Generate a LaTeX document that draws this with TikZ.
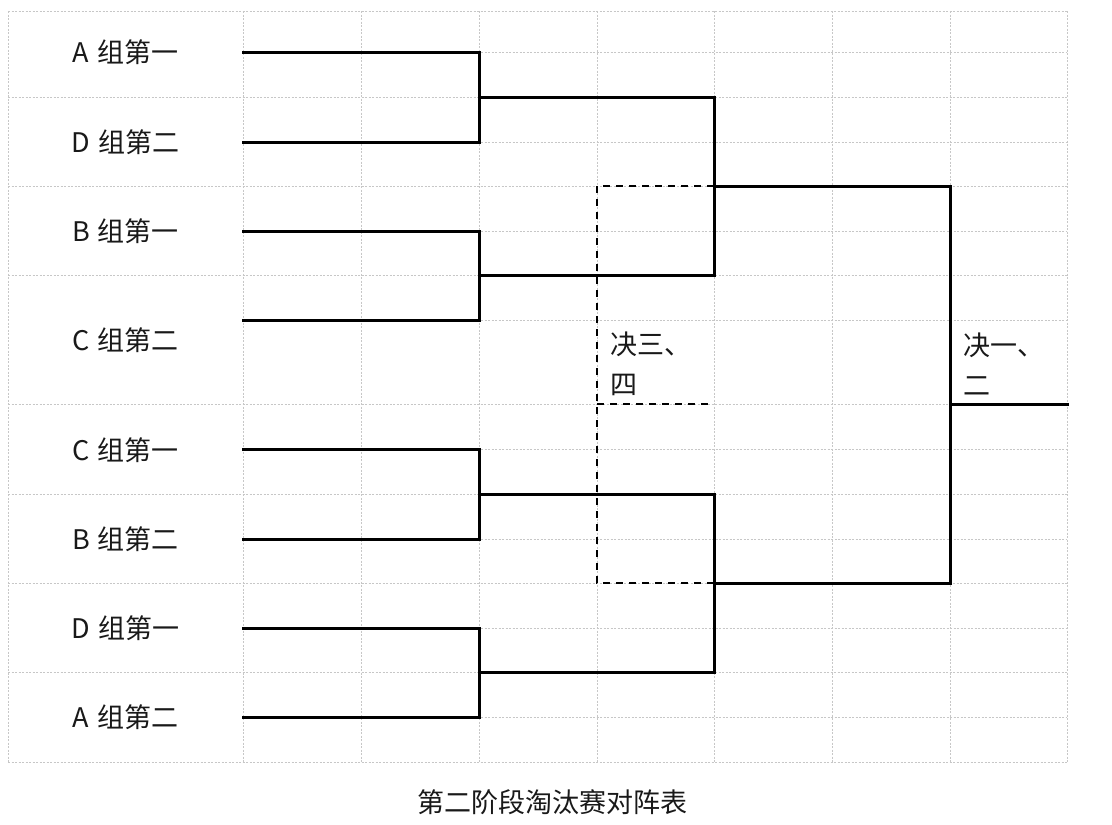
\documentclass[tikz,border=0pt]{standalone}
\usepackage{fontspec}
\setmainfont{Noto Sans CJK SC}
\begin{document}
\begin{tikzpicture}[x=1pt,y=-1pt,
  gridline/.style={draw=black!22,line width=0.7pt,dash pattern=on 2pt off 1.5pt},
  bracket/.style={draw=black,line width=3pt,line join=miter,line cap=rect},
  dashbox/.style={draw=black,line width=2.2pt,dash pattern=on 7pt off 6pt},
  team/.style={font=\fontsize{27}{30}\selectfont,text=black!90,inner sep=0pt},
  finlabel/.style={font=\fontsize{27}{40}\selectfont,text=black!90,inner sep=0pt,align=left,anchor=west},
  titlestyle/.style={font=\fontsize{27}{30}\selectfont,text=black!90,inner sep=0pt}]
\useasboundingbox (0,0) rectangle (1112,825);
\fill[white] (0,0) rectangle (1112,825);
% grid
\foreach \x in {8,243,361,479,597,714,832,950,1067}
  \draw[gridline] (\x,11) -- (\x,762);
\foreach \y in {11,97,186,275,404,494,583,672,762}
  \draw[gridline] (8,\y) -- (1067,\y);
\foreach \y in {52,142,231,320,449,539,628,717}
  \draw[gridline] (243,\y) -- (1067,\y);
% team labels
\node[team] (t1) at (125.5,52) {A\hspace{0.3em}组第一};
\node[team] (t2) at (125.5,142) {D\hspace{0.3em}组第二};
\node[team] (t3) at (125.5,231) {B\hspace{0.3em}组第一};
\node[team] (t4) at (125.5,340) {C\hspace{0.3em}组第二};
\node[team] (t5) at (125.5,450) {C\hspace{0.3em}组第一};
\node[team] (t6) at (125.5,539) {B\hspace{0.3em}组第二};
\node[team] (t7) at (125.5,628) {D\hspace{0.3em}组第一};
\node[team] (t8) at (125.5,717) {A\hspace{0.3em}组第二};
% slot coordinates
\coordinate (s1) at (243,52);
\coordinate (s2) at (243,142);
\coordinate (s3) at (243,231);
\coordinate (s4) at (243,320);
\coordinate (s5) at (243,449);
\coordinate (s6) at (243,539);
\coordinate (s7) at (243,628);
\coordinate (s8) at (243,717);
\coordinate (r1) at (479,97);
\coordinate (r2) at (479,275);
\coordinate (r3) at (479,494);
\coordinate (r4) at (479,672);
\coordinate (q1) at (714,186);
\coordinate (q2) at (714,583);
\coordinate (f) at (950,404);
\coordinate (fend) at (1067,404);
% dashed third-place box
\coordinate (d1) at (597,186);
\coordinate (d2) at (597,404);
\coordinate (d3) at (597,583);
\coordinate (e2) at (710,404);
\draw[dashbox] (q1) -- (d1) -- (d3) -- (q2);
\draw[dashbox] (d2) -- (e2);
% brackets
\draw[bracket] (s1) -| (r1) |- (s2);
\draw[bracket] (s3) -| (r2) |- (s4);
\draw[bracket] (s5) -| (r3) |- (s6);
\draw[bracket] (s7) -| (r4) |- (s8);
\draw[bracket] (r1) -| (q1) |- (r2);
\draw[bracket] (r3) -| (q2) |- (r4);
\draw[bracket] (q1) -| (f) |- (q2);
\draw[bracket] (f) -- (fend);
% final labels
\node[finlabel] (l34) at (610,364) {决三、\\四};
\node[finlabel] (l12) at (963,364) {决一、\\二};
% title
\node[titlestyle] (title) at (552,802) {第二阶段淘汰赛对阵表};
\end{tikzpicture}
\end{document}
